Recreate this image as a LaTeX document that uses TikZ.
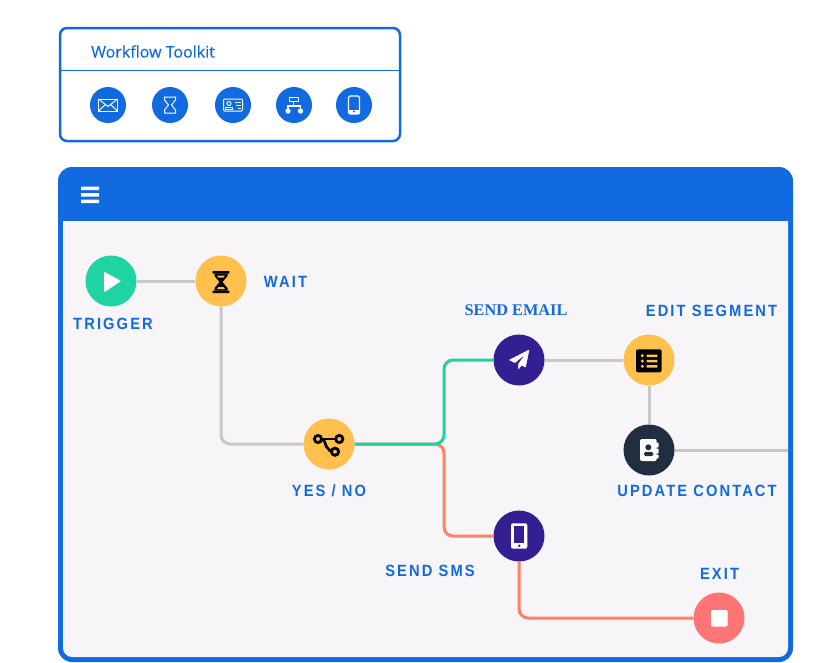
\documentclass[tikz,border=0pt]{standalone}
\usepackage{fontspec}
\setmainfont{Liberation Sans}
\newfontfamily\labelfont[LetterSpace=13,FakeStretch=.9]{Liberation Sans}
\newfontfamily\toolfont[FakeBold=.25]{Open Sans}
\newfontfamily\emailfont{Liberation Serif}
\definecolor{toolblue}{HTML}{116ADF}
\definecolor{panelbg}{HTML}{F7F5F7}
\definecolor{linkgray}{HTML}{C8C8C8}
\definecolor{trigreen}{HTML}{20D3A2}
\definecolor{waityellow}{HTML}{FFC04D}
\definecolor{deeppurple}{HTML}{331F92}
\definecolor{darkslate}{HTML}{202E3F}
\definecolor{exitcoral}{HTML}{FF7475}
\definecolor{smsorange}{HTML}{FF8363}
\tikzset{
	stepdot/.style={circle,inner sep=0pt,minimum size=51pt},
	tooldot/.style={circle,inner sep=0pt,minimum size=36pt,fill=toolblue},
	steplabel/.style={inner sep=0pt,text=toolblue,font=\labelfont\bfseries\fontsize{16.3}{16}\selectfont},
	graylink/.style={draw=linkgray,line width=3pt},
	colorlink/.style={line width=3pt,rounded corners=9pt},
	toolline/.style={draw=white,line width=1pt},
}
\begin{document}
\begin{tikzpicture}[x=1pt,y=-1pt]
	\useasboundingbox (0,0) rectangle (825,662);
	% toolkit card
	\draw[toolblue,line width=2.5pt,rounded corners=7pt,fill=white] (60,28) rectangle (400,141);
	\draw[toolblue,line width=1.5pt] (60,70.5) -- (400,70.5);
	\node[inner sep=0pt,text=toolblue,anchor=west,font=\toolfont\fontsize{16}{16}\selectfont] (toolkit) at (91,51.5) {Workflow Toolkit};
	\node[tooldot] (toolmail) at (108,105) {};
	\node[tooldot] (toolwait) at (170,105) {};
	\node[tooldot] (toolcard) at (233,105) {};
	\node[tooldot] (toolorg) at (294,105) {};
	\node[tooldot] (toolphone) at (354,105) {};
	\begin{scope}[shift={(108,105)}]
		\draw[toolline] (-9.5,-6) rectangle (9.5,6);
		\draw[toolline] (-9.5,-6) -- (0,1.5) -- (9.5,-6);
		\draw[toolline] (-9.5,6) -- (-2.5,-.5) (9.5,6) -- (2.5,-.5);
	\end{scope}
	\begin{scope}[shift={(170,105)}]
		\draw[toolline] (-5.5,-8) -- (5.5,-8) -- (5.5,-5) -- (1.5,0) -- (5.5,5) -- (5.5,8) -- (-5.5,8) -- (-5.5,5) -- (-1.5,0) -- (-5.5,-5) -- cycle;
	\end{scope}
	\begin{scope}[shift={(233,105)}]
		\draw[toolline,rounded corners=1pt] (-9.5,-6) rectangle (9.5,6);
		\draw[toolline] (-4,-1.5) circle (2);
		\draw[toolline] (-7.5,4) -- (-7.5,2.5) -- (-.5,2.5) -- (-.5,4) -- cycle;
		\draw[toolline] (2,-3) -- (7.5,-3) (3,0) -- (7.5,0) (4.5,3) -- (7.5,3);
	\end{scope}
	\begin{scope}[shift={(294,105)}]
		\draw[white,line width=1.2pt] (-.5,-4) -- (-.5,1) (-6,6) -- (-6,1) -- (6.5,1) -- (6.5,6);
		\draw[toolline] (-4.5,-8) rectangle (4.5,-3.5);
		\fill[white] (-6,6) circle (2.7);
		\fill[white] (6.5,6) circle (2.7);
	\end{scope}
	\begin{scope}[shift={(354,105)}]
		\draw[toolline,line width=1.2pt,rounded corners=1.5pt] (-5.5,-9) rectangle (5.5,9);
		\fill[white] (-5.5,4.5) rectangle (5.5,9);
		\fill[toolblue] (0,6.5) circle (1.2);
	\end{scope}
	% main panel
	\fill[toolblue,rounded corners=14pt] (58,167) rectangle (793,662);
	\fill[panelbg,rounded corners=9pt] (63,221) [sharp corners] -- (788,221) [rounded corners=9pt] -- (788,657) -- (63,657) [sharp corners] -- cycle;
	\fill[white] (81,186.5) rectangle (99,190) (81,193) rectangle (99,196.5) (81,199.5) rectangle (99,203);
	% steps
	\node[stepdot,fill=trigreen] (trigger) at (111,281) {};
	\node[stepdot,fill=waityellow] (wait) at (221,281) {};
	\node[stepdot,fill=waityellow] (yesno) at (329,444) {};
	\node[stepdot,fill=deeppurple] (email) at (519,360) {};
	\node[stepdot,fill=waityellow] (segment) at (649,360) {};
	\node[stepdot,fill=darkslate] (contact) at (649,450) {};
	\node[stepdot,fill=deeppurple] (sms) at (519,536) {};
	\node[stepdot,fill=exitcoral] (exit) at (719,618) {};
	\coordinate (fork) at (444,444);
	\coordinate (panelright) at (788,450);
	% links
	\draw[graylink] (trigger) -- (wait);
	\draw[graylink,rounded corners=9pt] (wait) |- (yesno);
	\draw[graylink] (email) -- (segment);
	\draw[graylink] (segment) -- (contact);
	\draw[graylink] (contact) -- (panelright);
	\draw[colorlink,smsorange] (yesno) -- (fork) |- (sms);
	\draw[colorlink,trigreen] (yesno) -- (fork) |- (email);
	\draw[colorlink,smsorange] (sms) |- (exit);
	% labels
	\node[steplabel] (triggerlabel) at (113,324) {TRIGGER};
	\node[steplabel] (waitlabel) at (285.5,282) {WAIT};
	\node[inner sep=0pt,text=toolblue,font=\emailfont\bfseries\fontsize{16.3}{16}\selectfont] (emaillabel) at (516,310) {SEND EMAIL};
	\node[steplabel] (segmentlabel) at (711.5,311) {EDIT SEGMENT};
	\node[steplabel] (yesnolabel) at (329,491) {YES / NO};
	\node[steplabel] (contactlabel) at (697,491) {UPDATE CONTACT};
	\node[steplabel] (smslabel) at (430,571) {SEND SMS};
	\node[steplabel] (exitlabel) at (719.5,574) {EXIT};
	% step icons
	\fill[white,draw=white,line width=1pt,line join=round] (104.5,272.5) -- (120,281) -- (104.5,291.5) -- cycle;
	\begin{scope}[shift={(221,282)}]
		\fill[black] (-8.3,-11) rectangle (8.3,-8.5) (-8.3,8.5) rectangle (8.3,11);
		\fill[black] (-6.5,-8.5) -- (6.5,-8.5) -- (6.5,-6) -- (1.5,0) -- (6.5,6) -- (6.5,8.5) -- (-6.5,8.5) -- (-6.5,6) -- (-1.5,0) -- (-6.5,-6) -- cycle;
		\fill[waityellow] (-4,-6.5) -- (4,-6.5) -- (2.5,-4.5) -- (-2.5,-4.5) -- cycle;
		\fill[waityellow] (-2.5,5) -- (2.5,5) -- (4,7) -- (-4,7) -- cycle;
	\end{scope}
	\begin{scope}[line width=2.8pt]
		\draw[black] (318,439) -- (339.3,439);
		\draw[black] (323,439) .. controls (326,442) and (325,451.7) .. (335,451.7);
		\draw[black,fill=waityellow] (318,439) circle (3.6);
		\draw[black,fill=waityellow] (339.3,439) circle (3.6);
		\draw[black,fill=waityellow] (335,451.7) circle (3.6);
	\end{scope}
	\fill[white,line join=round,draw=white,line width=.5pt] (529,350) -- (509.5,360) -- (515,362.5) -- (526,353.5) -- (518.5,364) -- (518.5,369) -- (521.5,365) -- (525.5,367) -- cycle;
	\fill[black,rounded corners=2pt] (636,349.3) rectangle (661.7,372.3);
	\begin{scope}[waityellow]
		\fill (642.3,355.7) circle (1.7) (642.3,361) circle (1.7) (642.3,366.3) circle (1.7);
		\fill (646.7,354.5) rectangle (657.3,357) (646.7,359.8) rectangle (657.3,362.3) (646.7,365.1) rectangle (657.3,367.6);
	\end{scope}
	\fill[white,rounded corners=2pt] (640,439) rectangle (656.7,461);
	\fill[white,rounded corners=.7pt] (656,442.5) rectangle (658.5,447.5) (656,448.5) rectangle (658.5,453.5) (656,454.5) rectangle (658.5,458.5);
	\fill[darkslate] (648.3,447.3) circle (3);
	\fill[darkslate,rounded corners=1.5pt] (644,451.8) rectangle (653.3,456);
	\fill[white,rounded corners=2pt] (511,523.3) rectangle (527.3,548.7);
	\fill[deeppurple] (514,526) rectangle (524.3,542.7);
	\fill[deeppurple] (519.2,545.7) circle (1.4);
	\fill[white,rounded corners=2pt] (711,610) rectangle (727.7,626.7);
\end{tikzpicture}
\end{document}
